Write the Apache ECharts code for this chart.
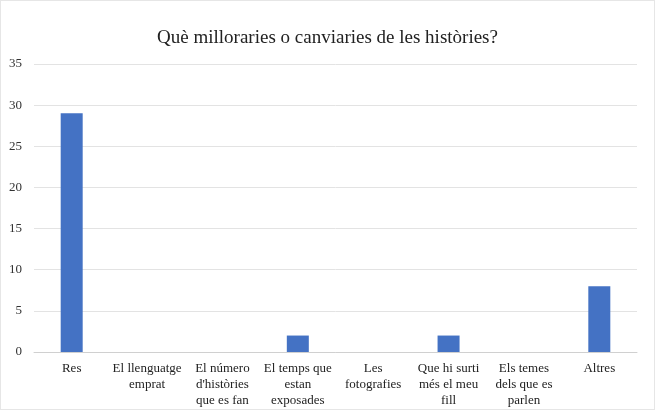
<!DOCTYPE html>
<html>
<head>
<meta charset="utf-8">
<script src="https://cdn.jsdelivr.net/npm/echarts@6/dist/echarts.min.js"></script>
<style>
  html, body { margin: 0; padding: 0; background: #fff; }
  #chart { width: 655px; height: 410px; box-sizing: border-box; border: 1px solid #e6e6e6; }
</style>
</head>
<body>
<div id="chart"></div>
<script>
const titleText = 'Què milloraries o canviaries de les històries?'
const categories = [
  'Res',
  'El llenguatge\nemprat',
  'El número\nd\'històries\nque es fan',
  'El temps que\nestan\nexposades',
  'Les\nfotografies',
  'Que hi surti\nmés el meu\nfill',
  'Els temes\ndels que es\nparlen',
  'Altres'
]
const values = [29, 0, 0, 2, 0, 2, 0, 8]

let myChart = echarts.init(document.getElementById('chart'))
myChart.setOption({
  backgroundColor: '#fff',
  textStyle: { fontFamily: 'Liberation Serif' },
  title: {
    text: titleText,
    left: 'center',
    top: 23,
    textStyle: { fontFamily: 'Liberation Serif', fontSize: 19, fontWeight: 'normal', color: '#222' }
  },
  grid: { left: 33, right: 17, top: 63, bottom: 57 },
  xAxis: {
    type: 'category',
    data: categories,
    axisTick: { show: false },
    axisLine: { lineStyle: { color: '#d0d0d0' } },
    axisLabel: {
      interval: 0,
      color: '#222',
      fontSize: 13,
      lineHeight: 16,
      margin: 9,
      fontFamily: 'Liberation Serif'
    }
  },
  yAxis: {
    type: 'value',
    min: 0,
    max: 35,
    interval: 5,
    axisLine: { show: false },
    axisTick: { show: false },
    axisLabel: { color: '#333', fontSize: 13, margin: 12, fontFamily: 'Liberation Serif' },
    splitLine: { lineStyle: { color: '#e3e3e3' } }
  },
  series: [{
    type: 'bar',
    barWidth: 22,
    data: values,
    itemStyle: { color: '#4472c4' },
    animation: false
  }]
})
</script>
</body>
</html>
